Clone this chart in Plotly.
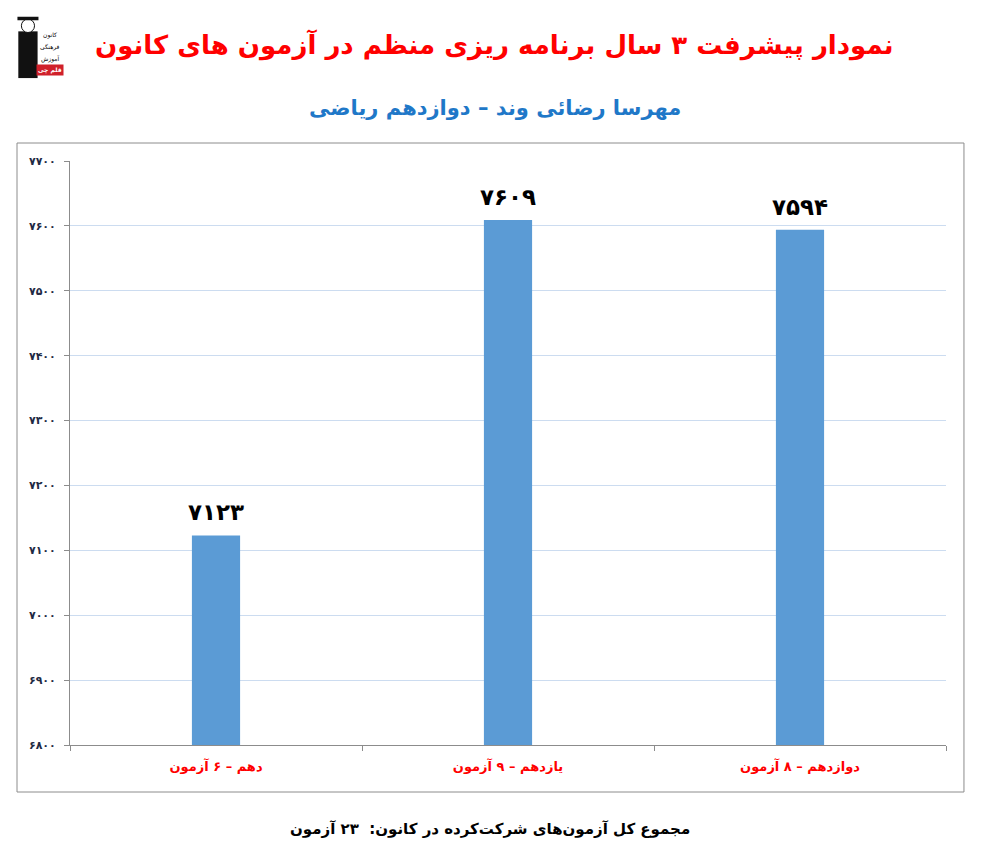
import plotly.graph_objects as go

categories = ["دهم – ۶ آزمون", "یازدهم – ۹ آزمون", "دوازدهم – ۸ آزمون"]
values = [7123, 7609, 7594]
y_ticks = [6800, 6900, 7000, 7100, 7200, 7300, 7400, 7500, 7600, 7700]

title_text = "نمودار پیشرفت ۳ سال برنامه ریزی منظم در آزمون های کانون"
subtitle_text = "مهرسا رضائی وند – دوازدهم ریاضی"
footer_text = "مجموع کل آزمون‌های شرکت‌کرده در کانون:  ۲۳ آزمون"

FA = str.maketrans("0123456789", "۰۱۲۳۴۵۶۷۸۹")
def fa(n):
    return str(n).translate(FA)

FONT = "DejaVu Sans"

fig = go.Figure()
fig.add_trace(go.Bar(
    x=categories, y=values,
    marker=dict(color="#5B9BD5", line=dict(width=0)),
    width=0.165,
    hoverinfo="skip",
))

annotations = []
for c, v in zip(categories, values):
    annotations.append(dict(
        x=c, y=v, xref="x", yref="y", text="<b>" + fa(v) + "</b>",
        showarrow=False, yanchor="bottom", yshift=8,
        font=dict(family=FONT, size=23, color="#000000"),
    ))

annotations += [
    dict(x=0.485, y=1.199, xref="paper", yref="paper", text="<b>" + title_text + "</b>",
         showarrow=False, xanchor="center", yanchor="middle",
         font=dict(family=FONT, size=26, color="#FF0000")),
    dict(x=0.485, y=1.091, xref="paper", yref="paper", text="<b>" + subtitle_text + "</b>",
         showarrow=False, xanchor="center", yanchor="middle",
         font=dict(family=FONT, size=21, color="#1F78C8")),
    dict(x=0.479, y=-0.144, xref="paper", yref="paper", text="<b>" + footer_text + "</b>",
         showarrow=False, xanchor="center", yanchor="middle",
         font=dict(family=FONT, size=15, color="#000000")),
]

# simple logo approximation (top-left)
logo_lines = [("کانون", 1.216), ("فرهنگی", 1.195), ("آموزش", 1.175)]
for t, yy in logo_lines:
    annotations.append(dict(x=-0.0225, y=yy, xref="paper", yref="paper", text=t,
                            showarrow=False, xanchor="center", yanchor="middle",
                            font=dict(family=FONT, size=6, color="#000000")))
annotations.append(dict(x=-0.0225, y=1.156, xref="paper", yref="paper", text="<b>قلم چی</b>",
                        showarrow=False, xanchor="center", yanchor="middle", bgcolor="#D0202A",
                        font=dict(family=FONT, size=6, color="#FFFFFF")))

shapes = [
    dict(type="rect", xref="paper", yref="paper", x0=-0.0605, x1=1.0205, y0=-0.0805, y1=1.0308,
         line=dict(color="#8C8C8C", width=1), fillcolor="rgba(0,0,0,0)", layer="below"),
    # logo figure: body
    dict(type="rect", xref="paper", yref="paper", x0=-0.059, x1=-0.037, y0=1.142, y1=1.222,
         line=dict(width=0), fillcolor="#111111"),
    # head
    dict(type="circle", xref="paper", yref="paper", x0=-0.0555, x1=-0.0405, y0=1.220, y1=1.243,
         line=dict(color="#111111", width=1), fillcolor="#FFFFFF"),
    # hat
    dict(type="rect", xref="paper", yref="paper", x0=-0.060, x1=-0.036, y0=1.241, y1=1.247,
         line=dict(width=0), fillcolor="#111111"),
]

fig.update_layout(
    width=983, height=841,
    margin=dict(l=62, r=45, t=153, b=104),
    paper_bgcolor="#FFFFFF", plot_bgcolor="#FFFFFF",
    showlegend=False,
    bargap=0.835,
    annotations=annotations,
    shapes=shapes,
    font=dict(family=FONT),
    xaxis=dict(
        type="category",
        showline=True, linecolor="#8C8C8C", linewidth=1,
        ticks="outside", ticklen=5, tickcolor="#8C8C8C", tickson="boundaries",
        showgrid=False, zeroline=False,
        tickfont=dict(family=FONT, size=13, color="#FF0000"),
        tickprefix="<b>", ticksuffix="</b>",
        ticklabelstandoff=9,
        fixedrange=True,
    ),
    yaxis=dict(
        range=[6800, 7700],
        tickvals=y_ticks,
        ticktext=["<b>" + fa(t) + "</b>" for t in y_ticks],
        showline=True, linecolor="#8C8C8C", linewidth=1,
        ticks="outside", ticklen=5, tickcolor="#8C8C8C",
        showgrid=True, gridcolor="#CCDCF0", gridwidth=1,
        zeroline=False,
        tickfont=dict(family=FONT, size=11, color="#1F2A44"),
        ticklabelstandoff=6,
        fixedrange=True,
    ),
)

fig.write_html("out.html")
